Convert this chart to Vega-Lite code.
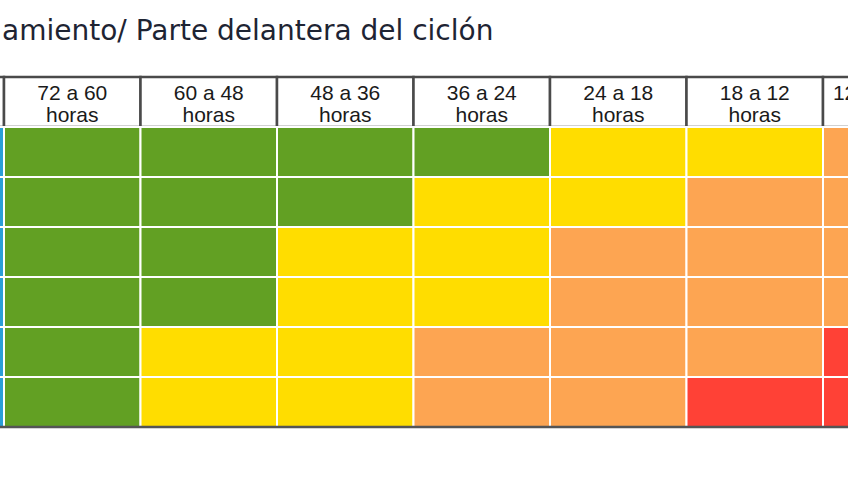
{
  "$schema": "https://vega.github.io/schema/vega-lite/v6.json",
  "width": 848,
  "height": 477,
  "padding": 0,
  "autosize": {"type": "none"},
  "background": "white",
  "config": {"view": {"stroke": null}},
  "title": {
    "text": "amiento/ Parte delantera del ciclón",
    "anchor": "start",
    "frame": "group",
    "font": "DejaVu Sans",
    "fontSize": 28,
    "fontWeight": "normal",
    "color": "#1e2433",
    "baseline": "alphabetic",
    "offset": -28,
    "dx": 2,
    "dy": 40,
    "limit": 0
  },
  "datasets": {
    "headers": [
      {"col": "0", "label": ""},
      {"col": "1", "label": "72 a 60\nhoras"},
      {"col": "2", "label": "60 a 48\nhoras"},
      {"col": "3", "label": "48 a 36\nhoras"},
      {"col": "4", "label": "36 a 24\nhoras"},
      {"col": "5", "label": "24 a 18\nhoras"},
      {"col": "6", "label": "18 a 12\nhoras"},
      {"col": "7", "label": "12 a 0 horas"}
    ],
    "cells": [
      {"row": "1", "col": "0", "level": "azul"},
      {"row": "1", "col": "1", "level": "verde"},
      {"row": "1", "col": "2", "level": "verde"},
      {"row": "1", "col": "3", "level": "verde"},
      {"row": "1", "col": "4", "level": "verde"},
      {"row": "1", "col": "5", "level": "amarillo"},
      {"row": "1", "col": "6", "level": "amarillo"},
      {"row": "1", "col": "7", "level": "naranja"},
      {"row": "2", "col": "0", "level": "azul"},
      {"row": "2", "col": "1", "level": "verde"},
      {"row": "2", "col": "2", "level": "verde"},
      {"row": "2", "col": "3", "level": "verde"},
      {"row": "2", "col": "4", "level": "amarillo"},
      {"row": "2", "col": "5", "level": "amarillo"},
      {"row": "2", "col": "6", "level": "naranja"},
      {"row": "2", "col": "7", "level": "naranja"},
      {"row": "3", "col": "0", "level": "azul"},
      {"row": "3", "col": "1", "level": "verde"},
      {"row": "3", "col": "2", "level": "verde"},
      {"row": "3", "col": "3", "level": "amarillo"},
      {"row": "3", "col": "4", "level": "amarillo"},
      {"row": "3", "col": "5", "level": "naranja"},
      {"row": "3", "col": "6", "level": "naranja"},
      {"row": "3", "col": "7", "level": "naranja"},
      {"row": "4", "col": "0", "level": "azul"},
      {"row": "4", "col": "1", "level": "verde"},
      {"row": "4", "col": "2", "level": "verde"},
      {"row": "4", "col": "3", "level": "amarillo"},
      {"row": "4", "col": "4", "level": "amarillo"},
      {"row": "4", "col": "5", "level": "naranja"},
      {"row": "4", "col": "6", "level": "naranja"},
      {"row": "4", "col": "7", "level": "naranja"},
      {"row": "5", "col": "0", "level": "azul"},
      {"row": "5", "col": "1", "level": "verde"},
      {"row": "5", "col": "2", "level": "amarillo"},
      {"row": "5", "col": "3", "level": "amarillo"},
      {"row": "5", "col": "4", "level": "naranja"},
      {"row": "5", "col": "5", "level": "naranja"},
      {"row": "5", "col": "6", "level": "naranja"},
      {"row": "5", "col": "7", "level": "rojo"},
      {"row": "6", "col": "0", "level": "azul"},
      {"row": "6", "col": "1", "level": "verde"},
      {"row": "6", "col": "2", "level": "amarillo"},
      {"row": "6", "col": "3", "level": "amarillo"},
      {"row": "6", "col": "4", "level": "naranja"},
      {"row": "6", "col": "5", "level": "naranja"},
      {"row": "6", "col": "6", "level": "rojo"},
      {"row": "6", "col": "7", "level": "rojo"}
    ]
  },
  "resolve": {"scale": {"x": "shared", "y": "shared"}},
  "layer": [
    {
      "data": {"name": "headers"},
      "mark": {"type": "rect", "fill": "white", "stroke": "#4a4a4a", "strokeWidth": 2.5},
      "encoding": {
        "x": {"field": "col", "type": "ordinal", "axis": null,
              "scale": {"domain": ["0","1","2","3","4","5","6","7"], "range": [-132.5, 959.5], "paddingInner": 0, "paddingOuter": 0}},
        "y": {"datum": "h", "type": "ordinal", "axis": null,
              "scale": {"domain": ["h","1","2","3","4","5","6"], "range": [77, 427], "paddingInner": 0, "paddingOuter": 0}}
      }
    },
    {
      "data": {"name": "cells"},
      "mark": {"type": "rect", "stroke": "white", "strokeWidth": 2},
      "encoding": {
        "x": {"field": "col", "type": "ordinal", "axis": null},
        "y": {"field": "row", "type": "ordinal", "axis": null},
        "fill": {"field": "level", "type": "nominal", "legend": null,
                 "scale": {"domain": ["azul","verde","amarillo","naranja","rojo"],
                           "range": ["#2a9fd8","#62a023","#ffdd00","#fda552","#ff4136"]}}
      }
    },
    {
      "data": {"name": "headers"},
      "mark": {"type": "text", "font": "Liberation Sans", "fontSize": 21, "lineHeight": 22, "color": "#1a1a1a", "lineBreak": "\n", "align": "center", "baseline": "alphabetic", "dy": -2},
      "encoding": {
        "x": {"field": "col", "type": "ordinal", "axis": null},
        "y": {"datum": "h", "type": "ordinal", "axis": null},
        "text": {"field": "label"}
      }
    },
    {
      "data": {"values": [{}]},
      "mark": {"type": "rule", "color": "#555555", "strokeWidth": 2.5},
      "encoding": {
        "y": {"datum": "6", "type": "ordinal", "bandPosition": 1, "axis": null}
      }
    }
  ]
}
